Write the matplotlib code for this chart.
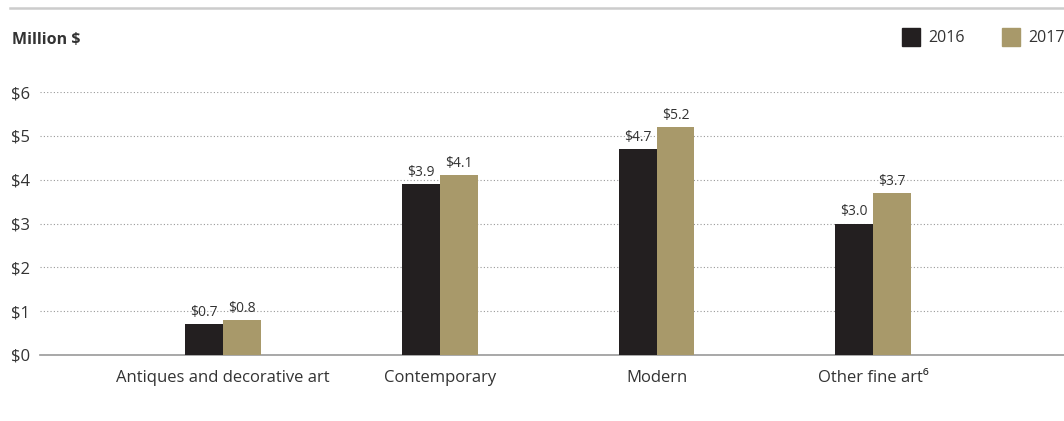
import matplotlib
matplotlib.use("Agg")
import matplotlib.pyplot as plt
from matplotlib.lines import Line2D
from matplotlib.patches import Rectangle
import numpy as np

plt.rcParams['font.family'] = ['Open Sans', 'DejaVu Sans']

categories = ["Antiques and decorative art", "Contemporary", "Modern", "Other fine art\u2076"]
series_names = ["2016", "2017"]
values_2016 = [0.7, 3.9, 4.7, 3.0]
values_2017 = [0.8, 4.1, 5.2, 3.7]
yticks = [0, 1, 2, 3, 4, 5, 6]
ytick_labels = ["$0", "$1", "$2", "$3", "$4", "$5", "$6"]

c16 = "#231f20"
c17 = "#a8996a"
text_c = "#333333"

W, H = 1064, 421
fig = plt.figure(figsize=(W/100, H/100), dpi=100)

ax_left, ax_right, ax_bottom, ax_top = 40, 1064, 355, 92
ax = fig.add_axes([ax_left/W, 1 - ax_bottom/H, (ax_right-ax_left)/W, (ax_bottom-ax_top)/H])

x = np.arange(len(categories))
bw = 0.175
b1 = ax.bar(x - bw/2, values_2016, bw, color=c16, zorder=3)
b2 = ax.bar(x + bw/2, values_2017, bw, color=c17, zorder=3)
for bars, vals in ((b1, values_2016), (b2, values_2017)):
    for r, v in zip(bars, vals):
        ax.annotate(f"${v:.1f}", (r.get_x() + r.get_width()/2, v), xytext=(0, 3),
                    textcoords="offset points", ha="center", va="bottom",
                    fontsize=10, color=text_c)

ax.set_xlim(-0.845, 3.88)
ax.set_ylim(0, 6)
ax.set_yticks(yticks)
ax.set_yticklabels(ytick_labels, fontsize=12, color=text_c)
ax.set_xticks(x)
ax.set_xticklabels(categories, fontsize=12, color=text_c)
ax.tick_params(axis='both', length=0)
ax.tick_params(axis='y', pad=7)
ax.tick_params(axis='x', pad=11)
ax.yaxis.grid(True, linestyle=(0, (1, 2)), color="#999999", linewidth=0.8, zorder=0)
for s in ("top", "right", "left"):
    ax.spines[s].set_visible(False)
ax.spines["bottom"].set_color("#999999")
ax.spines["bottom"].set_linewidth(1.2)

# top rule
fig.add_artist(Line2D([10/W, 1.0], [1 - 8/H, 1 - 8/H], color="#cccccc", linewidth=1.8))

fig.text(12/W, 1 - 40/H, "Million $", fontsize=11.5, fontweight="bold", color=text_c,
         ha="left", va="center")

# legend
for sx, name, col in ((902, series_names[0], c16), (1002, series_names[1], c17)):
    fig.add_artist(Rectangle((sx/W, 1 - 46/H), 18/W, 18/H, color=col, transform=fig.transFigure))
    fig.text((sx + 26)/W, 1 - 38/H, name, fontsize=11.5, color=text_c, ha="left", va="center")

fig.savefig("out.png", dpi=100)
